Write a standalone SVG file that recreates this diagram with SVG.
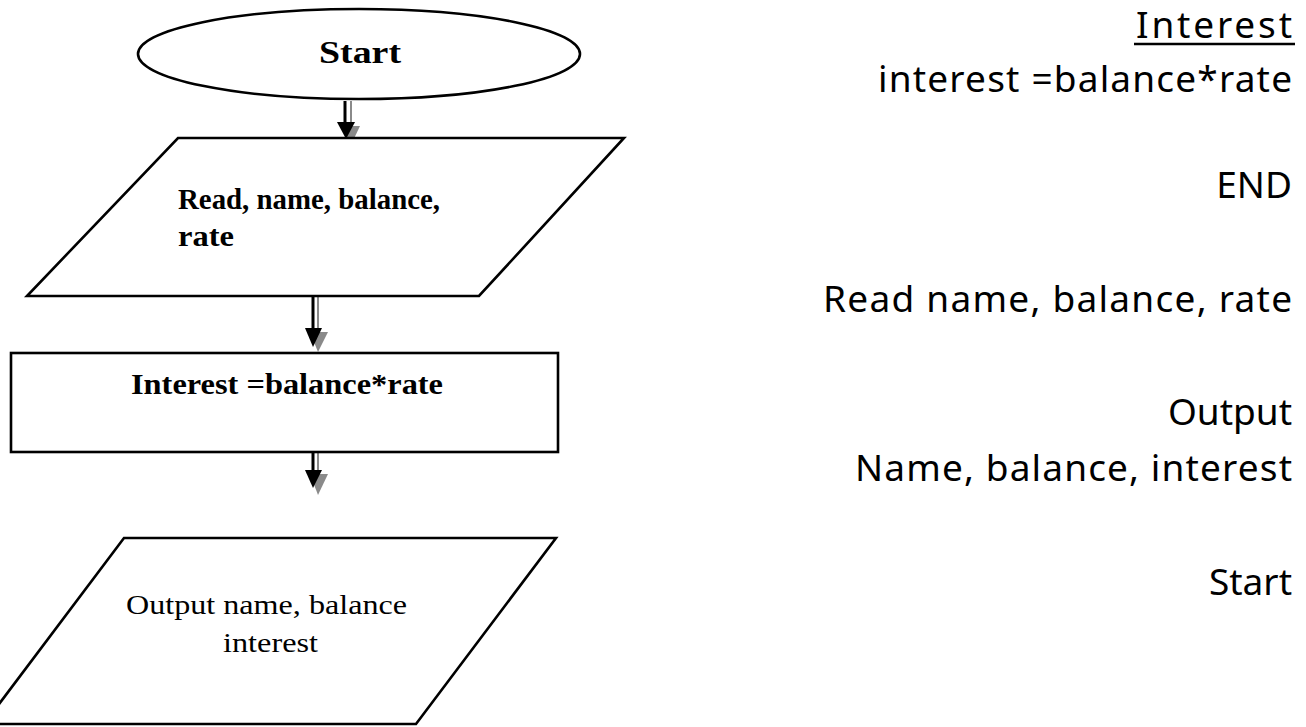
<svg xmlns="http://www.w3.org/2000/svg" width="1306" height="727" viewBox="0 0 1306 727">
<style>
.shape{fill:#fff;stroke:#000;stroke-width:2.6}
.bold{font-family:"Liberation Serif",serif;font-weight:bold;fill:#000}
.reg{font-family:"Liberation Serif",serif;fill:#000}
.sans{font-family:"Noto Sans","Open Sans",sans-serif;font-size:37px;fill:#000;text-anchor:end}
.lb{stroke:#000;stroke-width:3;fill:none}
.lg{stroke:#8a8a8a;stroke-width:2;fill:none}
.hb{fill:#000}
.hg{fill:#8a8a8a}
</style>
<rect width="1306" height="727" fill="#fff"/>
<g id="connectors">
  <g id="a1">
    <line class="lg" x1="351" y1="101" x2="351" y2="126"/>
    <line class="lb" x1="345" y1="101" x2="345" y2="124"/>
    <polygon class="hg" points="342,126 360,126 350,147"/>
    <polygon class="hb" points="337,122 355,122 346,139"/>
  </g>
  <g id="a2">
    <line class="lg" x1="318" y1="296" x2="318" y2="332"/>
    <line class="lb" x1="313" y1="296" x2="313" y2="330"/>
    <polygon class="hg" points="310,332 328,332 318,352"/>
    <polygon class="hb" points="305,328 322,328 313,347"/>
  </g>
  <g id="a3">
    <line class="lg" x1="318" y1="453" x2="318" y2="474"/>
    <line class="lb" x1="313" y1="453" x2="313" y2="471"/>
    <polygon class="hg" points="310,474 328,474 318,495"/>
    <polygon class="hb" points="305,470 322,470 313,488"/>
  </g>
</g>
<g id="start">
  <ellipse class="shape" cx="359" cy="54" rx="221" ry="45"/>
  <text class="bold" x="360" y="63" font-size="32" text-anchor="middle" textLength="82" lengthAdjust="spacingAndGlyphs">Start</text>
</g>
<g id="read">
  <polygon class="shape" points="178,138 624,138 479,296 27,296"/>
  <text class="bold" x="178" y="209" font-size="30" textLength="262" lengthAdjust="spacingAndGlyphs">Read, name, balance,</text>
  <text class="bold" x="178" y="246" font-size="30" textLength="56" lengthAdjust="spacingAndGlyphs">rate</text>
</g>
<g id="calc">
  <rect class="shape" x="11" y="353" width="547" height="99" stroke-width="3"/>
  <text class="bold" x="131" y="394" font-size="30" textLength="312" lengthAdjust="spacingAndGlyphs">Interest =balance*rate</text>
</g>
<g id="output">
  <polygon class="shape" points="124,538 556,538 416,724 -16,724"/>
  <text class="reg" x="126" y="614" font-size="28" textLength="281" lengthAdjust="spacingAndGlyphs">Output name, balance</text>
  <text class="reg" x="223" y="652" font-size="28" textLength="95" lengthAdjust="spacingAndGlyphs">interest</text>
</g>
<g id="notes">
  <text class="sans" x="1292" y="38" font-size="33" textLength="156">Interest</text>
  <line x1="1134" y1="44" x2="1295" y2="44" stroke="#000" stroke-width="2.5"/>
  <text class="sans" x="1292" y="92" textLength="414">interest =balance*rate</text>
  <text class="sans" x="1292" y="198">END</text>
  <text class="sans" x="1292" y="312" textLength="469">Read name, balance, rate</text>
  <text class="sans" x="1292" y="425">Output</text>
  <text class="sans" x="1292" y="481" textLength="437">Name, balance, interest</text>
  <text class="sans" x="1292" y="595">Start</text>
</g>
</svg>
